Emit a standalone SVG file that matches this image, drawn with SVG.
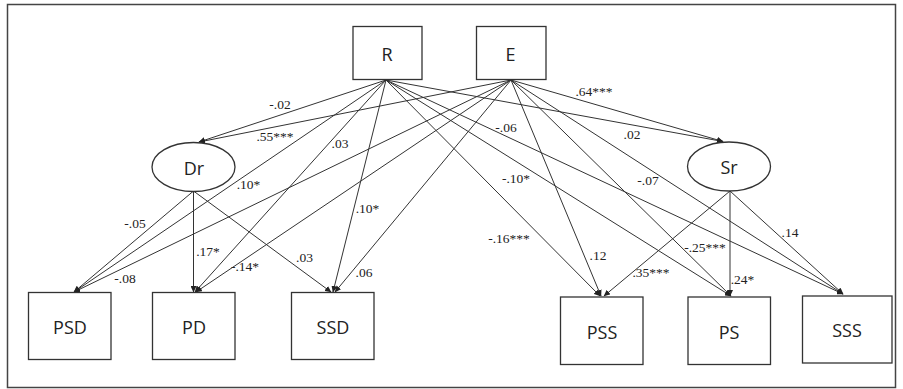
<svg xmlns="http://www.w3.org/2000/svg" width="903" height="389" viewBox="0 0 903 389">
<defs>
<marker id="ah" markerWidth="7" markerHeight="6" refX="6" refY="3" orient="auto" markerUnits="userSpaceOnUse">
<path d="M0,0 L6.5,3 L0,6 Z" fill="#222"/>
</marker>
<style>
.node rect, .node ellipse { fill: #fff; stroke: #333; stroke-width: 1.3; }
.node text { font-family: "Open Sans", "Noto Sans", sans-serif; font-size: 18px; fill: #222; text-anchor: middle; }
#edges line { stroke: #333; stroke-width: 1; marker-end: url(#ah); }
.lbl { font-family: "Liberation Serif", "Times New Roman", serif; font-size: 13.5px; fill: #222; text-anchor: middle; }
</style>
</defs>
<rect x="7.5" y="4.5" width="888" height="383" fill="#fff" stroke="#444" stroke-width="1.5"/>
<g id="edges">
<line x1="386" y1="80" x2="199" y2="142"/>
<line x1="511" y1="80" x2="199" y2="142"/>
<line x1="386" y1="80" x2="723" y2="141.5"/>
<line x1="511" y1="80" x2="723" y2="141.5"/>
<line x1="386" y1="80" x2="74" y2="292"/>
<line x1="511" y1="80" x2="74" y2="292"/>
<line x1="386" y1="80" x2="195" y2="292"/>
<line x1="511" y1="80" x2="196" y2="292"/>
<line x1="386" y1="80" x2="333" y2="292"/>
<line x1="511" y1="80" x2="335" y2="292"/>
<line x1="386" y1="80" x2="600" y2="296"/>
<line x1="511" y1="80" x2="601" y2="296"/>
<line x1="386" y1="80" x2="731" y2="296"/>
<line x1="511" y1="80" x2="731" y2="296"/>
<line x1="386" y1="80" x2="843" y2="294"/>
<line x1="511" y1="80" x2="843" y2="294"/>
<line x1="193.5" y1="191" x2="74" y2="292"/>
<line x1="193.5" y1="191" x2="193.5" y2="292"/>
<line x1="193.5" y1="191" x2="331" y2="292"/>
<line x1="730" y1="191" x2="604" y2="296"/>
<line x1="730" y1="191" x2="730" y2="296"/>
<line x1="730" y1="191" x2="843" y2="294"/>
</g>
<g id="labels">
<text class="lbl" x="280" y="109">-.02</text>
<text class="lbl" x="275" y="140.5">.55***</text>
<text class="lbl" x="340" y="147.5">.03</text>
<text class="lbl" x="594" y="96">.64***</text>
<text class="lbl" x="506" y="131.5">-.06</text>
<text class="lbl" x="632" y="139">.02</text>
<text class="lbl" x="248.5" y="189">.10*</text>
<text class="lbl" x="135" y="227.5">-.05</text>
<text class="lbl" x="208" y="256">.17*</text>
<text class="lbl" x="245" y="271">-.14*</text>
<text class="lbl" x="125" y="282.5">-.08</text>
<text class="lbl" x="367.5" y="213">.10*</text>
<text class="lbl" x="304.5" y="262">.03</text>
<text class="lbl" x="364" y="276.5">.06</text>
<text class="lbl" x="516" y="182.5">-.10*</text>
<text class="lbl" x="509" y="242.5">-.16***</text>
<text class="lbl" x="648" y="185">-.07</text>
<text class="lbl" x="598" y="260">.12</text>
<text class="lbl" x="705" y="251.5">-.25***</text>
<text class="lbl" x="651" y="276.5">.35***</text>
<text class="lbl" x="742.5" y="284">.24*</text>
<text class="lbl" x="790" y="236.5">.14</text>
</g>
<g id="node-R" class="node"><rect x="353" y="26.5" width="69" height="53"/><text x="387" y="60.5">R</text></g>
<g id="node-E" class="node"><rect x="476.5" y="26.5" width="69.5" height="53"/><text x="510.5" y="60.5">E</text></g>
<g id="node-Dr" class="node"><ellipse cx="193.5" cy="167" rx="41.5" ry="24.5"/><text x="194" y="174.5">Dr</text></g>
<g id="node-Sr" class="node"><ellipse cx="729" cy="166.5" rx="41.5" ry="24.5"/><text x="729" y="174">Sr</text></g>
<g id="node-PSD" class="node"><rect x="28.5" y="292.5" width="82.5" height="67"/><text x="70" y="334">PSD</text></g>
<g id="node-PD" class="node"><rect x="152.5" y="292.5" width="82.5" height="67"/><text x="194" y="334">PD</text></g>
<g id="node-SSD" class="node"><rect x="291.5" y="292.5" width="82.5" height="67"/><text x="333" y="334">SSD</text></g>
<g id="node-PSS" class="node"><rect x="560.5" y="297" width="82.5" height="67.5"/><text x="602" y="338.5">PSS</text></g>
<g id="node-PS" class="node"><rect x="688" y="297" width="82.5" height="67.5"/><text x="729" y="338.5">PS</text></g>
<g id="node-SSS" class="node"><rect x="802.5" y="296" width="89.5" height="67"/><text x="847" y="337">SSS</text></g>
</svg>
